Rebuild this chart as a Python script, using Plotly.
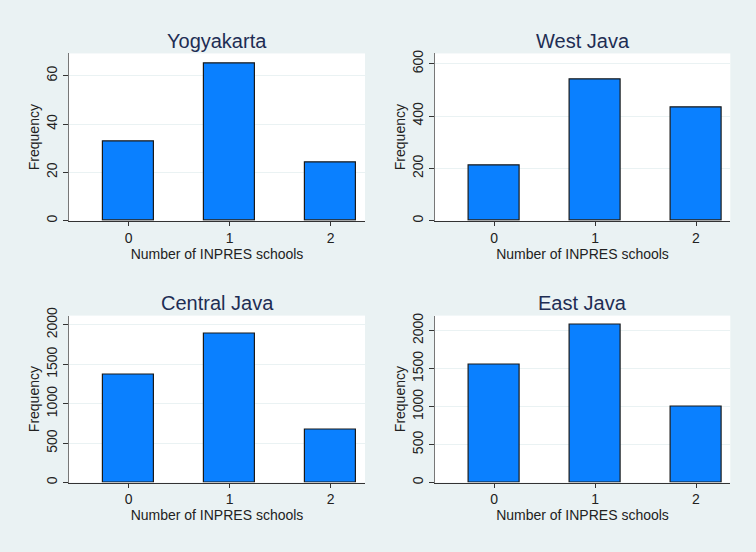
import plotly.graph_objects as go

categories = [0, 1, 2]
regions = ["Yogyakarta", "West Java", "Central Java", "East Java"]
yogyakarta = [33, 65, 24]
west_java = [213, 538, 433]
central_java = [1372, 1886, 673]
east_java = [1554, 2075, 996]
series = [yogyakarta, west_java, central_java, east_java]
y_tops = [69.2, 639, 2117, 2197]
y_ticks = [[0, 20, 40, 60], [0, 200, 400, 600], [0, 500, 1000, 1500, 2000], [0, 500, 1000, 1500, 2000]]

W, H = 756, 552
PAGE_OFF = 8           # observed vertical page offset of the figure
SCALE = 560 / 552      # observed vertical compression of the screenshot
BG = "#EAF2F3"
FONT = "Liberation Sans, Arial, Helvetica, sans-serif"

# target screen boxes (left, right, top, bottom)
boxes = [(69, 365, 53.5, 221.5), (434.7, 730.3, 53.5, 221.5),
         (69, 365, 316.7, 484.3), (434.7, 730.3, 316.7, 484.3)]


def py(s):
    return 1 - (s * SCALE - PAGE_OFF) / H


fig = go.Figure()
annotations = []
for i, (name, vals) in enumerate(zip(regions, series)):
    n = i + 1
    xa = "x" if n == 1 else f"x{n}"
    ya = "y" if n == 1 else f"y{n}"
    fig.add_trace(go.Bar(x=categories, y=vals, width=0.5,
                         marker=dict(color="#0A80FF", line=dict(color="#1A1A1A", width=1.2)),
                         xaxis=xa, yaxis=ya, showlegend=False))
    l, r, t, b = boxes[i]
    xd = [l / W, r / W]
    yd = [py(b), py(t)]
    xkey = "xaxis" if n == 1 else f"xaxis{n}"
    ykey = "yaxis" if n == 1 else f"yaxis{n}"
    fig.layout[xkey] = dict(domain=xd, range=[-0.59, 2.34], anchor=ya,
                            tickvals=categories, ticks="outside", ticklen=4,
                            tickcolor="#333333", showline=True, linecolor="#333333",
                            linewidth=1.2, showgrid=False, zeroline=False,
                            tickfont=dict(size=14, color="#222222", family=FONT),
                            title=dict(text="Number of INPRES schools", standoff=0,
                                       font=dict(size=14, color="#222222", family=FONT)))
    fig.layout[ykey] = dict(domain=yd, range=[0, y_tops[i]], anchor=xa,
                            tickvals=y_ticks[i], tickangle=-90, ticks="outside", ticklen=5,
                            tickcolor="#333333", showline=True, linecolor="#777777",
                            linewidth=1.2, showgrid=True, gridcolor="#EAF2F3", gridwidth=1,
                            zeroline=False,
                            tickfont=dict(size=14, color="#222222", family=FONT),
                            title=dict(text="Frequency", standoff=1,
                                       font=dict(size=14, color="#222222", family=FONT)))
    annotations.append(dict(text=name, x=(l + r) / 2 / W, y=py(t - 12.5),
                            xref="paper", yref="paper", showarrow=False,
                            xanchor="center", yanchor="middle",
                            font=dict(size=20, color="#1E2D53", family=FONT)))

fig.update_layout(width=W, height=H, margin=dict(l=0, r=0, t=0, b=0),
                  paper_bgcolor=BG, plot_bgcolor="white", annotations=annotations,
                  bargap=0)
fig.write_html("out.html", config={"displayModeBar": False},
               post_script=("document.body.style.margin='0';document.body.style.padding='0';"
                            "document.body.style.background='" + BG + "';"
                            "document.documentElement.style.background='" + BG + "';"))
